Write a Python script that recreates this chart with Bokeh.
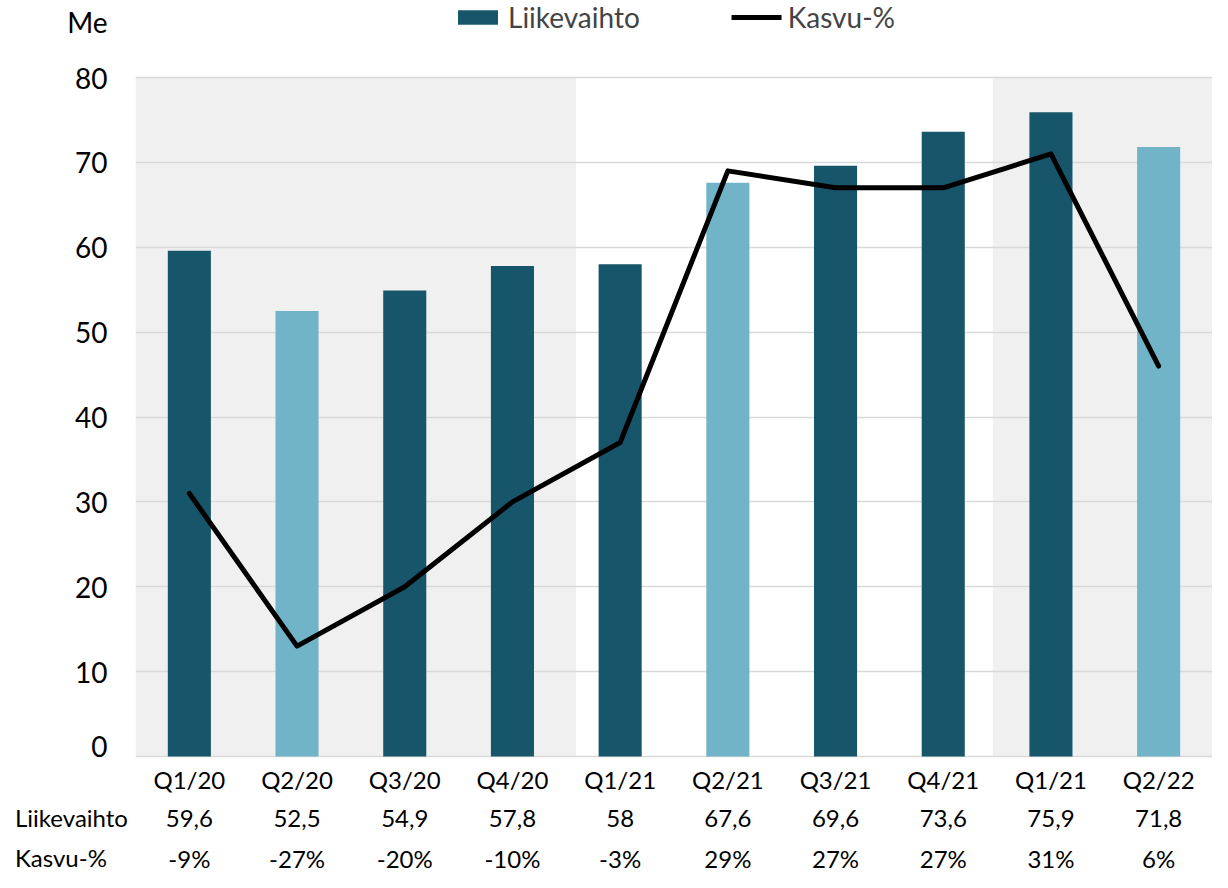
from bokeh.plotting import figure
from bokeh.layouts import column, row
from bokeh.models import Range1d, FixedTicker, BoxAnnotation, Legend, LegendItem, ColumnDataSource, Div
from bokeh.core.properties import value
from bokeh.embed import file_html
from bokeh.resources import INLINE

# ---- data ----
categories = ["Q1/20", "Q2/20", "Q3/20", "Q4/20", "Q1/21", "Q2/21", "Q3/21", "Q4/21", "Q1/21", "Q2/22"]
liikevaihto = [59.6, 52.5, 54.9, 57.8, 58, 67.6, 69.6, 73.6, 75.9, 71.8]
kasvu = [-9, -27, -20, -10, -3, 29, 27, 27, 31, 6]
y_ticks = [0, 10, 20, 30, 40, 50, 60, 70, 80]
row_titles = ["Liikevaihto", "Kasvu-%"]
unit_label = "Me"

# ---- layout constants ----
FONT = "Lato"
DARK = "#17566A"
LIGHT = "#71B3C7"
SHADE = "#F0F0F0"
GRID = "#D9D9D9"
W = 1212
H1, H2 = 762, 110
LEFT = 135
TOP80, BOT0 = 77, 756
PPU = (BOT0 - TOP80) / 80.0
YMAX = 80 + TOP80 / PPU
YMIN = -(H1 - BOT0) / PPU
ME_Y = 80 + (TOP80 - 21) / PPU
ROW_Y = [17, 56, 96]
TFS = 24

def fmt(v):
    return ("%g" % v).replace(".", ",")

xs = [i + 0.5 for i in range(len(categories))]
colors = [LIGHT if c.startswith("Q2") else DARK for c in categories]

src = ColumnDataSource(dict(x=xs, top=liikevaihto, color=colors, cat=categories,
                            lv=[fmt(v) for v in liikevaihto],
                            kv=["%d%%" % k for k in kasvu], k=kasvu))

# ---- main chart ----
p = figure(width=W, height=H1, output_backend="svg", toolbar_location=None,
           x_range=Range1d(0, 10), y_range=Range1d(YMIN, YMAX),
           x_axis_location=None,
           min_border_left=LEFT, min_border_right=0, min_border_top=0, min_border_bottom=0)
p.outline_line_color = None
p.background_fill_color = "white"
p.border_fill_color = "white"
p.extra_y_ranges = {"pct": Range1d(YMIN - 40, YMAX - 40)}

p.xgrid.visible = False
p.ygrid.ticker = FixedTicker(ticks=y_ticks)
p.ygrid.grid_line_color = GRID
p.ygrid.grid_line_width = 1.5

ax = p.yaxis[0]
ax.ticker = FixedTicker(ticks=y_ticks + [ME_Y])
ax.major_label_overrides = {ME_Y: unit_label}
ax.axis_line_color = None
ax.major_tick_line_color = None
ax.minor_tick_line_color = None
ax.major_tick_out = 0
ax.major_label_standoff = 28
ax.major_label_text_font = FONT
ax.major_label_text_font_size = "28px"
ax.major_label_text_color = "black"

for l, r in [(0, 4.09), (7.96, 10)]:
    p.add_layout(BoxAnnotation(left=l, right=r, bottom=0, top=80, fill_color=SHADE,
                               fill_alpha=1, line_color=None, level="image"))

bars = p.vbar(x="x", top="top", width=0.4, fill_color="color", line_color=None, source=src)
line = p.line(x="x", y="k", y_range_name="pct", line_width=5, line_color="black",
              line_join="round", line_cap="round", source=src)

legend = Legend(items=[LegendItem(label="Liikevaihto", renderers=[bars]),
                       LegendItem(label="Kasvu-%", renderers=[line])],
                orientation="horizontal", location="top_center",
                glyph_width=50, glyph_height=18, label_standoff=6, spacing=92,
                label_text_font=FONT, label_text_font_size="28px",
                border_line_color=None, background_fill_alpha=0, margin=0, padding=6)
p.add_layout(legend)

# ---- table below ----
t = figure(width=W - LEFT, height=H2, output_backend="svg", toolbar_location=None,
           x_range=Range1d(0, 10), y_range=Range1d(H2, 0),
           x_axis_location=None, y_axis_location=None,
           min_border_left=0, min_border_right=0, min_border_top=0, min_border_bottom=0)
t.outline_line_color = None
t.xgrid.visible = False
t.ygrid.visible = False
t.border_fill_color = "white"

for col, cy in zip(["cat", "lv", "kv"], ROW_Y):
    t.text(x="x", y=cy, text=col, text_align="center", text_baseline="middle",
           text_font=value(FONT), text_font_size="%dpx" % TFS, text_color="black", source=src)

html = "".join(
    '<div style="position:absolute;left:15px;top:%dpx;font-family:%s;font-size:%dpx;'
    'line-height:28px;color:black;white-space:nowrap;">%s</div>' % (cy - 14, FONT, TFS, txt)
    for txt, cy in zip(row_titles, ROW_Y[1:]))
div = Div(text='<div style="position:relative;width:%dpx;height:%dpx;">%s</div>' % (LEFT, H2, html),
          width=LEFT, height=H2, margin=0)

open("out.html", "w").write(file_html(column(p, row(div, t, spacing=0), spacing=0), INLINE))
